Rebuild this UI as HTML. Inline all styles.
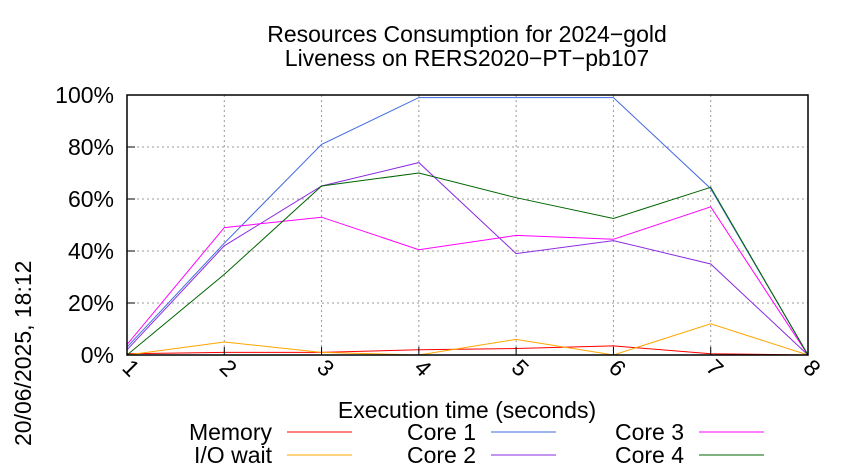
<!DOCTYPE html>
<html><head><meta charset="utf-8"><style>
body{margin:0;background:#fff}
svg{display:block;font-family:"Liberation Sans",sans-serif}
</style></head><body>
<svg id="chart" width="850" height="475">
<text x="467" y="42" text-anchor="middle" font-size="23">Resources Consumption for 2024−gold</text>
<text x="467" y="66" text-anchor="middle" font-size="23">Liveness on RERS2020−PT−pb107</text>
<text transform="translate(31,446) rotate(-90)" font-size="23">20/06/2025, 18:12</text>
<text x="467" y="418" text-anchor="middle" font-size="23">Execution time (seconds)</text>
<g id="grid"></g><g id="series"></g><g id="axes"></g><g id="legend"></g>
</svg>
<script>
const xCategories=[1,2,3,4,5,6,7,8];
const yTicks=[0,20,40,60,80,100];
const yTickLabels=["0%","20%","40%","60%","80%","100%"];
const memory=[0.5,1,1,2,2.5,3.5,0.5,0];
const ioWait=[0,5,1,0,6,0,12,0];
const core1=[3,43,81,99,99,99,64,0];
const core2=[2,42,65,74,39,44,35,0];
const core3=[4,49,53,40.5,46,44.5,57,0];
const core4=[0,31,65,70,60.5,52.5,64.5,0];
const L=127,R=808,T=95,B=355;
const xs=v=>L+(v-1)*(R-L)/7;
const ys=v=>B-v*(B-T)/100;
const NS="http://www.w3.org/2000/svg";
function mk(t,a,p){const e=document.createElementNS(NS,t);for(const k in a)e.setAttribute(k,a[k]);p.appendChild(e);return e;}
const grid=document.getElementById('grid'),axes=document.getElementById('axes'),ser=document.getElementById('series'),leg=document.getElementById('legend');
yTicks.forEach((v,i)=>{
 const g=mk('line',{x1:L,x2:R,y1:ys(v),y2:ys(v),stroke:'#999','stroke-dasharray':'2,3','stroke-width':1},grid);
 
 
 const t=mk('text',{x:L-13,y:ys(v)+8,'text-anchor':'end','font-size':23},axes);
 t.textContent=yTickLabels[i];
 
 
 const tk=mk('line',{x1:L,x2:L+8,y1:ys(v),y2:ys(v),stroke:'#000'},axes);
 
 
});
xCategories.forEach(c=>{
 const g=mk('line',{x1:xs(c),x2:xs(c),y1:T,y2:B,stroke:'#999','stroke-dasharray':'2,3'},grid);
 
 
 const tk=mk('line',{x1:xs(c),x2:xs(c),y1:B,y2:B-8,stroke:'#000'},axes);
 
 
 const t=mk('text',{x:0,y:0,'font-size':23,transform:`translate(${xs(c)-6},${B+14}) rotate(45)`},axes);
 t.textContent=c;
 
 
});
const frame=mk('rect',{x:L,y:T,width:R-L,height:B-T,fill:'none',stroke:'#000','stroke-width':1.5},axes);


const series=[["Memory",memory,"#ff0000"],["I/O wait",ioWait,"#ffa500"],["Core 1",core1,"#4169e1"],["Core 2",core2,"#8a2be2"],["Core 3",core3,"#ff00ff"],["Core 4",core4,"#006400"]];
series.forEach(([n,d,c])=>{
 const p=mk('polyline',{points:d.map((v,i)=>xs(xCategories[i])+','+ys(v)).join(' '),fill:'none',stroke:c,'stroke-width':1},ser);
 
 
});
const legPos=[[272,432],[272,455],[476,432],[476,455],[684,432],[684,455]];
series.forEach(([n,d,c],i)=>{
 const [x,y]=legPos[i];
 const t=mk('text',{x:x,y:y+8,'text-anchor':'end','font-size':23},leg);
 t.textContent=n;
 
 
 const l=mk('line',{x1:x+15,x2:x+80,y1:y,y2:y,stroke:c},leg);
 
 
});
</script>
</body></html>
